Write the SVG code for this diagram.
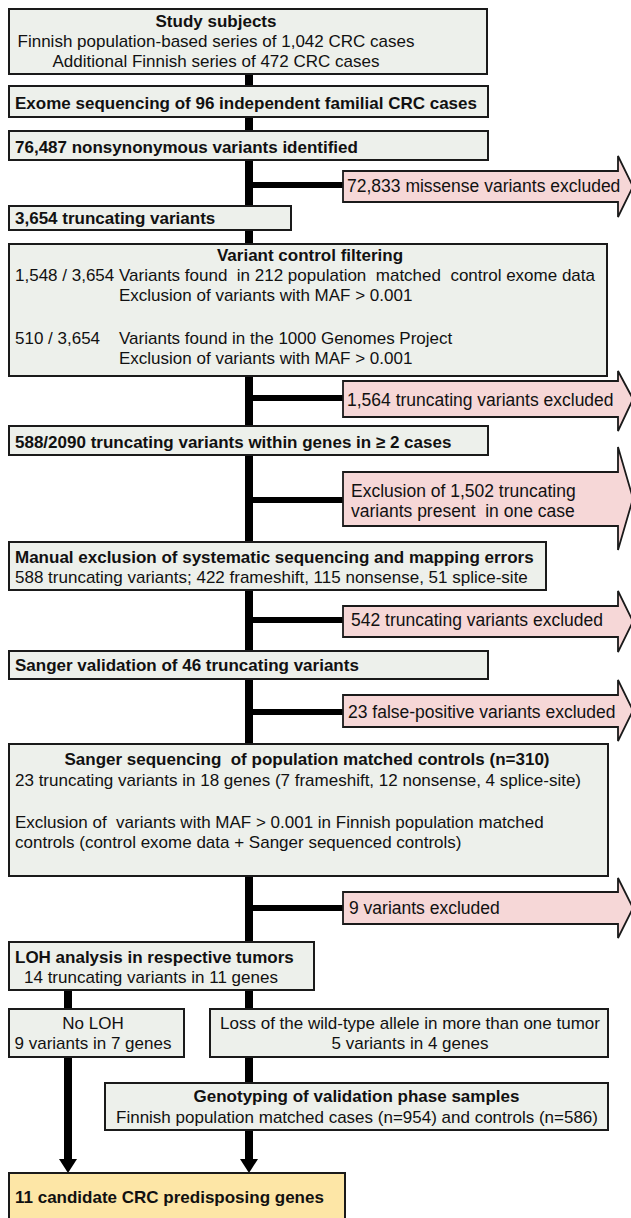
<svg xmlns="http://www.w3.org/2000/svg" width="631" height="1218" viewBox="0 0 631 1218">
<defs>
<style>
.box{fill:#edf0eb;stroke:#1a1a1a;stroke-width:2}
.final{fill:#fde6a6;stroke:#1a1a1a;stroke-width:2}
.excl{fill:#f6d7d7;stroke:#1a1a1a;stroke-width:1.8;stroke-linejoin:miter}
.t{font-family:"Liberation Sans",Arial,sans-serif;font-size:17px;fill:#111;white-space:pre}
.xt{font-size:17.5px}
.b{font-weight:bold}
.c{text-anchor:middle}
.ln{stroke:#000;fill:none}
.hd{fill:#000}
</style>
</defs>
<rect width="631" height="1218" fill="#ffffff"/>
<g id="connectors">
<line class="ln" x1="249" y1="74" x2="249" y2="1083" stroke-width="8"/>
<path class="ln" d="M249 185H344M249 398H344M249 500H344M249 620H344M249 712H344M249 908H344" stroke-width="6"/>
<line class="ln" x1="68" y1="990" x2="68" y2="1160" stroke-width="8"/>
<line class="ln" x1="249" y1="1130" x2="249" y2="1160" stroke-width="8"/>
<polygon class="hd" points="59,1159 77,1159 68,1173"/>
<polygon class="hd" points="240,1159 258,1159 249,1173"/>
</g>
<g id="n1">
<rect class="box" x="9" y="9" width="478" height="65"/>
<text class="t b c" x="216" y="27">Study subjects</text>
<text class="t c" x="216" y="47">Finnish population-based series of 1,042 CRC cases</text>
<text class="t c" x="216" y="67">Additional Finnish series of 472 CRC cases</text>
</g>
<g id="n2">
<rect class="box" x="9" y="86" width="479" height="31"/>
<text class="t b" x="15" y="109">Exome sequencing of 96 independent familial CRC cases</text>
</g>
<g id="n3">
<rect class="box" x="9" y="131" width="479" height="29"/>
<text class="t b" x="15" y="152.5">76,487 nonsynonymous variants identified</text>
</g>
<g id="x1">
<polygon class="excl" points="343,171 618,171 618,156 633,186.5 618,217 618,202 343,202"/>
<text class="t xt" x="347" y="192">72,833 missense variants excluded</text>
</g>
<g id="n4">
<rect class="box" x="9" y="206" width="282" height="24"/>
<text class="t b" x="15" y="224">3,654 truncating variants</text>
</g>
<g id="n5">
<rect class="box" x="9" y="244" width="598" height="132"/>
<text class="t b c" x="310" y="261">Variant control filtering</text>
<text class="t" x="15" y="281">1,548 / 3,654</text>
<text class="t" x="119" y="281">Variants found  in 212 population  matched  control exome data</text>
<text class="t" x="119" y="301">Exclusion of variants with MAF &gt; 0.001</text>
<text class="t" x="15" y="344">510 / 3,654</text>
<text class="t" x="119" y="344">Variants found in the 1000 Genomes Project</text>
<text class="t" x="119" y="364">Exclusion of variants with MAF &gt; 0.001</text>
</g>
<g id="x2">
<polygon class="excl" points="343,381 618,381 618,371 633,399 618,431 618,417 343,417"/>
<text class="t xt" x="347" y="406">1,564 truncating variants excluded</text>
</g>
<g id="n6">
<rect class="box" x="9" y="426" width="479" height="29"/>
<text class="t b" x="15" y="447.5">588/2090 truncating variants within genes in ≥ 2 cases</text>
</g>
<g id="x3">
<polygon class="excl" points="343,472 618,472 618,447 633,498.5 618,550 618,526 343,526"/>
<text class="t xt" x="351" y="497">Exclusion of 1,502 truncating</text>
<text class="t xt" x="351" y="517">variants present  in one case</text>
</g>
<g id="n7">
<rect class="box" x="9" y="542" width="537" height="48"/>
<text class="t b" x="15" y="563">Manual exclusion of systematic sequencing and mapping errors</text>
<text class="t" x="15" y="583">588 truncating variants; 422 frameshift, 115 nonsense, 51 splice-site</text>
</g>
<g id="x4">
<polygon class="excl" points="343,606 618,606 618,591 633,621.5 618,652 618,637 343,637"/>
<text class="t xt" x="351" y="626">542 truncating variants excluded</text>
</g>
<g id="n8">
<rect class="box" x="9" y="651" width="479" height="28"/>
<text class="t b" x="15" y="671">Sanger validation of 46 truncating variants</text>
</g>
<g id="x5">
<polygon class="excl" points="343,695 618,695 618,680 633,710.5 618,741 618,727 343,727"/>
<text class="t xt" x="348" y="718">23 false-positive variants excluded</text>
</g>
<g id="n9">
<rect class="box" x="9" y="744" width="599" height="132"/>
<text class="t b c" x="307" y="765">Sanger sequencing  of population matched controls (n=310)</text>
<text class="t" x="15" y="786">23 truncating variants in 18 genes (7 frameshift, 12 nonsense, 4 splice-site)</text>
<text class="t" x="15" y="828">Exclusion of  variants with MAF &gt; 0.001 in Finnish population matched</text>
<text class="t" x="15" y="848">controls (control exome data + Sanger sequenced controls)</text>
</g>
<g id="x6">
<polygon class="excl" points="343,892 618,892 618,878 633,908 618,938 618,924 343,924"/>
<text class="t xt" x="349" y="914">9 variants excluded</text>
</g>
<g id="n10">
<rect class="box" x="9" y="942" width="305" height="48"/>
<text class="t b" x="15" y="963">LOH analysis in respective tumors</text>
<text class="t" x="24" y="983">14 truncating variants in 11 genes</text>
</g>
<g id="n11">
<rect class="box" x="9" y="1009" width="175" height="48"/>
<text class="t c" x="93" y="1029">No LOH</text>
<text class="t c" x="93" y="1049">9 variants in 7 genes</text>
</g>
<g id="n12">
<rect class="box" x="210" y="1009" width="398" height="48"/>
<text class="t c" x="410" y="1029">Loss of the wild-type allele in more than one tumor</text>
<text class="t c" x="410" y="1049">5 variants in 4 genes</text>
</g>
<g id="n13">
<rect class="box" x="105" y="1083" width="503" height="47"/>
<text class="t b c" x="356.5" y="1102">Genotyping of validation phase samples</text>
<text class="t c" x="357" y="1123">Finnish population matched cases (n=954) and controls (n=586)</text>
</g>
<g id="n14">
<rect class="final" x="9" y="1173" width="336" height="60"/>
<text class="t b" x="15" y="1203">11 candidate CRC predisposing genes</text>
</g>
</svg>
